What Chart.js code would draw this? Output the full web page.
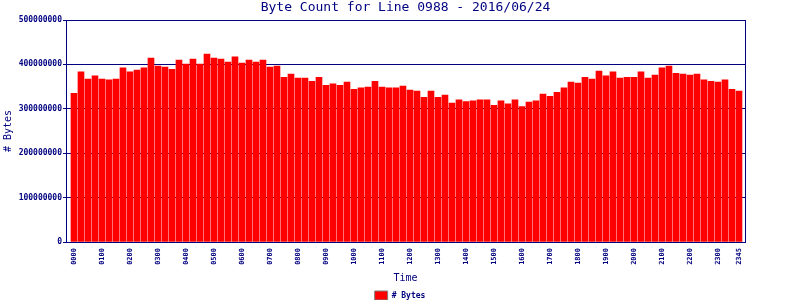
<!DOCTYPE html>
<html>
<head>
<meta charset="utf-8">
<script src="https://cdn.jsdelivr.net/npm/chart.js@4"></script>
<style>
html, body { margin: 0; padding: 0; background: #fff; }
</style>
</head>
<body>
<canvas id="bytes" width="800" height="300"></canvas>
<script>
// 15 minute slots for the day
const times = [
  '0000','0015','0030','0045','0100','0115','0130','0145','0200','0215','0230','0245',
  '0300','0315','0330','0345','0400','0415','0430','0445','0500','0515','0530','0545',
  '0600','0615','0630','0645','0700','0715','0730','0745','0800','0815','0830','0845',
  '0900','0915','0930','0945','1000','1015','1030','1045','1100','1115','1130','1145',
  '1200','1215','1230','1245','1300','1315','1330','1345','1400','1415','1430','1445',
  '1500','1515','1530','1545','1600','1615','1630','1645','1700','1715','1730','1745',
  '1800','1815','1830','1845','1900','1915','1930','1945','2000','2015','2030','2045',
  '2100','2115','2130','2145','2200','2215','2230','2245','2300','2315','2330','2345'
];

const bytes = [
  335000000, 383000000, 367000000, 374000000, 367000000, 365000000, 367000000, 392000000,
  383000000, 387000000, 392000000, 414000000, 396000000, 394000000, 389000000, 410000000,
  401000000, 412000000, 401000000, 423000000, 414000000, 412000000, 405000000, 417000000,
  403000000, 410000000, 405000000, 410000000, 394000000, 396000000, 371000000, 378000000,
  369000000, 369000000, 362000000, 371000000, 353000000, 356000000, 353000000, 360000000,
  344000000, 347000000, 349000000, 362000000, 349000000, 347000000, 347000000, 351000000,
  342000000, 340000000, 326000000, 340000000, 326000000, 331000000, 313000000, 320000000,
  316000000, 318000000, 320000000, 320000000, 308000000, 318000000, 311000000, 320000000,
  305000000, 315000000, 318000000, 333000000, 328000000, 337000000, 347000000, 360000000,
  358000000, 371000000, 367000000, 385000000, 374000000, 383000000, 369000000, 371000000,
  371000000, 383000000, 369000000, 376000000, 392000000, 396000000, 380000000, 378000000,
  376000000, 378000000, 365000000, 362000000, 360000000, 365000000, 344000000, 340000000
];

const yMax = 500000000;
const yStep = 100000000;

const navy = '#000080';
const mono = "'DejaVu Sans Mono', monospace";

const xMin = -1.14, xMax = 95.86;

const ctx = document.getElementById('bytes').getContext('2d');

new Chart(ctx, {
  type: 'bar',
  data: {
    datasets: [{
      label: '# Bytes',
      data: bytes.map((v, i) => ({ x: i, y: v })),
      backgroundColor: '#ff0000',
      borderWidth: 0,
      barThickness: 6
    }]
  },
  options: {
    responsive: false,
    animation: false,
    layout: { padding: 0 },
    scales: {
      x: {
        type: 'linear',
        min: xMin,
        max: xMax,
        offset: false,
        // one tick per slot, plus one at the right edge for the frame line
        afterBuildTicks: s => {
          s.ticks = times.map((t, i) => ({ value: i })).concat([{ value: xMax }]);
        },
        grid: {
          offset: false,
          color: c => (c.tick && c.tick.value === xMax) ? navy : 'rgba(0,0,0,0)',
          drawTicks: false,
          lineWidth: 1
        },
        border: { color: navy, width: 1 },
        ticks: {
          autoSkip: false,
          minRotation: 90,
          maxRotation: 90,
          padding: 6,
          color: navy,
          font: { family: mono, size: 7, weight: 'bold' },
          callback: function (v) {
            const i = Math.round(v);
            if (Math.abs(v - i) > 0.01 || i < 0 || i >= times.length) return '';
            if (times[i].endsWith('00') || i === times.length - 1) return times[i];
            return '';
          }
        },
        title: {
          display: true,
          text: 'Time',
          color: navy,
          font: { family: mono, size: 10 },
          padding: { top: 0, bottom: 6 }
        },
        afterFit: s => {
          s.height = 48;
          // empty space right of the plot, title and legend stay centred on the canvas
          s.paddingLeft = 0;
          s.paddingRight = 55;
        }
      },
      y: {
        min: 0,
        max: yMax,
        grid: { color: navy, lineWidth: 1, tickLength: 3 },
        border: { color: navy, width: 1 },
        ticks: {
          stepSize: yStep,
          padding: 1,
          color: navy,
          font: { family: mono, size: 8, weight: 'bold' },
          callback: v => String(v)
        },
        title: {
          display: true,
          text: '# Bytes',
          color: navy,
          font: { family: mono, size: 10 },
          padding: { top: 2, bottom: 0 }
        },
        afterFit: s => { s.width = 66; }
      }
    },
    plugins: {
      title: {
        display: true,
        fullSize: false,
        text: 'Byte Count for Line 0988 - 2016/06/24',
        color: navy,
        font: { family: mono, size: 13, weight: 'normal' },
        padding: { top: 0, bottom: 4.4 }
      },
      legend: {
        position: 'bottom',
        maxHeight: 10,
        labels: {
          boxWidth: 13,
          boxHeight: 9,
          padding: 1,
          color: navy,
          font: { family: mono, size: 8, weight: 'bold' },
          generateLabels: chart =>
            Chart.defaults.plugins.legend.labels.generateLabels(chart).map(l => ({
              ...l, strokeStyle: '#808080', lineWidth: 1
            }))
        }
      },
      tooltip: { enabled: false }
    }
  }
});
</script>
</body>
</html>
